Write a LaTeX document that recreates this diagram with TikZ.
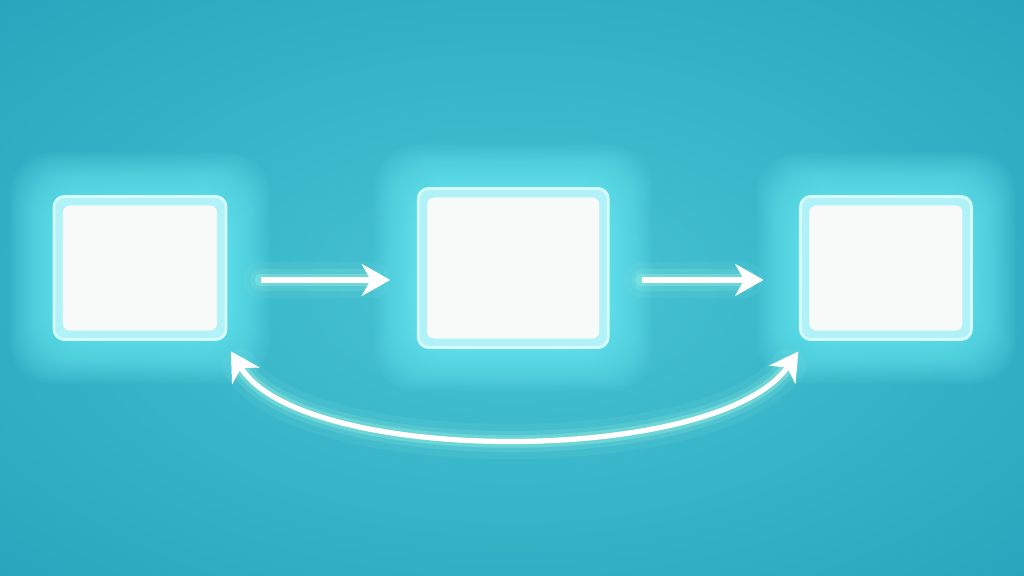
\documentclass[tikz,border=0pt]{standalone}
\usepackage{xcolor}
\usepackage{tikz}
\usetikzlibrary{arrows.meta}
\usetikzlibrary{backgrounds}
\usetikzlibrary{positioning}

\definecolor{bgout}{RGB}{28,154,180}
\definecolor{bgin}{RGB}{72,196,212}
\definecolor{glowc}{RGB}{110,238,248}
\definecolor{framec}{RGB}{176,242,247}
\definecolor{edgec}{RGB}{214,252,253}
\definecolor{glowa}{RGB}{170,250,230}
\definecolor{paper}{RGB}{247,250,249}
\pgfdeclareradialshading{bgshade}{\pgfpoint{0bp}{0bp}}{color(0bp)=(bgin); color(22bp)=(bgin!55!bgout); color(50bp)=(bgout)}

\begin{document}
\begin{tikzpicture}[x=0.01cm, y=-0.01cm]
        \tikzset{
            head/.tip={Stealth[length=8pt, width=9pt, inset=2.5pt]},
            box/.style={
                draw=edgec,
                fill=framec,
                line width=.8pt,
                rounded corners=3pt,
                inner sep=0pt,
                outer sep=0pt,
            },
            flow/.style={
                draw=white,
                line width=1.5pt,
                preaction={draw=glowa, line width=10pt, opacity=.08, line cap=round},
                preaction={draw=glowa, line width=6pt, opacity=.15, line cap=round},
                preaction={draw=glowa, line width=3.5pt, opacity=.3, line cap=round},
            }
        }
        \useasboundingbox (0,0) rectangle (1024,576);
        \node[box, minimum width=1.72cm, minimum height=1.43cm] (a) at (140,268) {};
        \node[box, minimum width=1.90cm, minimum height=1.59cm, right=1.92cm of a] (b) {};
        \node[box, minimum width=1.71cm, minimum height=1.43cm, right=1.92cm of b] (c) {};
        \foreach \n in {a,b,c}
            \fill[paper, rounded corners=2pt] ([shift={(9,9)}]\n.north west) rectangle ([shift={(-9,-9)}]\n.south east);

        \draw[flow, -head, shorten <=10pt, shorten >=8pt] ([yshift=-3.4pt]a.east) -- ([yshift=-3.4pt]b.west);
        \draw[flow, -head, shorten <=9.5pt, shorten >=10.5pt] ([yshift=-3.4pt]b.east) -- ([yshift=-3.4pt]c.west);
        \draw[flow, head-head] ([shift={(5,12)}]a.south east) .. controls +(70,115) and +(-80,115) .. ([shift={(-2,12)}]c.south west);

        \begin{scope}[on background layer]
            \shade[shading=bgshade] (0,0) rectangle (1024,576);
            \foreach \n in {a,b,c}
                \foreach \r in {2,4,...,44}
                    \fill[glowc, opacity=.06, rounded corners=12pt] ([shift={(-\r,-\r)}]\n.north west) rectangle ([shift={(\r,\r)}]\n.south east);
        \end{scope}
    \end{tikzpicture}
\end{document}
